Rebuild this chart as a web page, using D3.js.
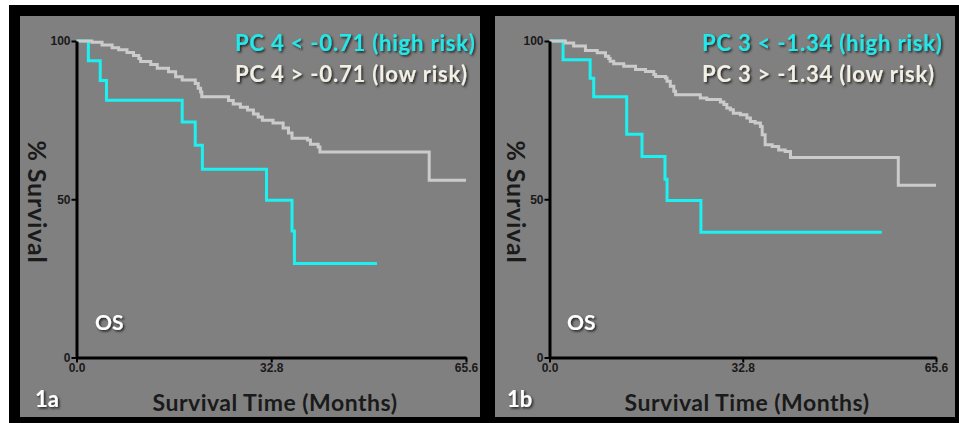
<!DOCTYPE html>
<html>
<head>
<meta charset="utf-8">
<script src="https://cdn.jsdelivr.net/npm/d3@7"></script>
<style>
  body { margin: 0; background: #fff; }
  svg { display: block; }
  .axis .tick text { font-family: "Liberation Sans", Arial, sans-serif; font-weight: bold; font-size: 12px; fill: #1a1a1a; }
  .axis path.domain { stroke: #000; stroke-width: 3px; }
  .axis .tick line { stroke: #000; stroke-width: 2px; }
  .label { font-family: Lato, "Open Sans", sans-serif; font-weight: bold; }
</style>
</head>
<body>
<script>
//values, each point is [months, % survival]
var xTicks = [0, 32.8, 65.6];
var yTicks = [0, 50, 100];
var panelNames = ["1a", "1b"];
var highLabels = ["PC 4 < -0.71 (high risk)", "PC 3 < -1.34 (high risk)"];
var lowLabels = ["PC 4 > -0.71 (low risk)", "PC 3 > -1.34 (low risk)"];

var highRisk4 = [[0,100],[2.0,93.75],[4.0,87.5],[5.05,81.25],[17.8,74.4],[20.0,67.1],[21.2,59.5],[32.0,49.7],[36.3,40.0],[36.7,29.7],[50.6,29.7]];
var lowRisk4 = [[0,100],[2.6,99.6],[4.3,98.7],[6.0,97.9],[7.1,97.2],[8.5,96.4],[9.6,95.4],[10.5,94.5],[10.8,93.5],[12.5,92.6],[13.6,91.4],[15.5,90.3],[16.7,88.7],[17.8,87.7],[20.0,86.6],[20.5,85.1],[20.9,83.9],[21.1,82.4],[25.6,81.2],[26.4,80.1],[27.6,79.1],[28.8,78.2],[29.8,76.9],[30.6,76.0],[31.3,75.0],[33.1,74.1],[34.8,72.5],[35.7,70.9],[36.3,69.3],[38.9,68.7],[39.4,67.4],[40.7,66.5],[41.0,64.9],[59.4,56.0],[65.6,56.0]];
var highRisk3 = [[0,100],[2.3,94.1],[6.9,88.2],[7.5,82.4],[13.1,70.5],[15.7,63.5],[19.6,56.3],[19.95,49.6],[25.7,39.6],[56.4,39.6]];
var lowRisk3 = [[0,100],[2.7,99.4],[4.1,98.4],[6.1,97.0],[8.1,96.3],[9.5,95.2],[10.05,94.5],[10.3,93.6],[10.9,92.8],[12.6,92.0],[14.6,91.0],[16.3,90.4],[17.7,89.4],[18.0,88.8],[19.7,88.3],[19.95,87.3],[20.5,85.7],[21.1,84.1],[21.4,83.0],[25.6,82.0],[26.7,81.5],[29.0,80.7],[29.6,79.9],[30.1,78.8],[30.7,78.3],[31.2,77.2],[32.4,76.7],[33.5,75.7],[34.1,74.6],[34.9,74.1],[35.8,73.0],[36.1,70.4],[36.6,67.2],[37.8,66.7],[38.9,65.6],[40.0,65.1],[40.9,63.2],[59.2,54.4],[65.6,54.4]];

var highSeries = [highRisk4, highRisk3];
var lowSeries = [lowRisk4, lowRisk3];

//frame positions of the two panels
var panels = [
    {bgX: 20, plotL: 76.5, plotR: 466, legendX: 235, osX: 95, nameX: 35, xTitleX: 275, yTitleX: 28},
    {bgX: 495, plotL: 549.5, plotR: 936, legendX: 702, osX: 567, nameX: 507, xTitleX: 747, yTitleX: 507}
];

var width = 959, height = 423,
    plotTop = 41, plotBottom = 357.5;

var svg = d3.select("body")
    .append("svg")
    .attr("width", width)
    .attr("height", height);

//soft dark shadow behind the white / coloured labels
var shadow = svg.append("defs").append("filter")
    .attr("id", "shadow")
    .attr("x", "-10%").attr("y", "-30%")
    .attr("width", "130%").attr("height", "170%");
shadow.append("feDropShadow")
    .attr("dx", 1.5).attr("dy", 1.5)
    .attr("stdDeviation", 1)
    .attr("flood-color", "#000")
    .attr("flood-opacity", 0.75);

//black outer frame
svg.append("rect")
    .attr("x", 9).attr("y", 5)
    .attr("width", width - 9).attr("height", height - 5)
    .attr("fill", "#000");

panels.forEach(function(p, i){

    var g = svg.append("g");

    //gray plot background
    g.append("rect")
        .attr("x", p.bgX).attr("y", 16)
        .attr("width", 460).attr("height", 401)
        .attr("fill", "#808080");

    var x = d3.scaleLinear()
        .domain([0, 65.6])
        .range([p.plotL, p.plotR]);

    var y = d3.scaleLinear()
        .domain([0, 100])
        .range([plotBottom, plotTop]);

    var line = d3.line()
        .curve(d3.curveStepAfter)
        .x(function(d){ return x(d[0]); })
        .y(function(d){ return y(d[1]); });

    //high risk first, low risk drawn over it
    g.append("path")
        .datum(highSeries[i])
        .attr("d", line)
        .attr("fill", "none")
        .attr("stroke", "#1cf0f0")
        .attr("stroke-width", 3);

    g.append("path")
        .datum(lowSeries[i])
        .attr("d", line)
        .attr("fill", "none")
        .attr("stroke", "#cbcbcb")
        .attr("stroke-width", 3);

    //axes
    var yAxis = d3.axisLeft(y)
        .tickValues(yTicks)
        .tickSize(5)
        .tickSizeOuter(0)
        .tickPadding(1);

    g.append("g")
        .attr("class", "axis")
        .attr("transform", "translate(" + p.plotL + ",0)")
        .call(yAxis);

    var xAxis = d3.axisBottom(x)
        .tickValues(xTicks)
        .tickFormat(d3.format(".1f"))
        .tickSize(5)
        .tickSizeOuter(0)
        .tickPadding(1);

    g.append("g")
        .attr("class", "axis")
        .attr("transform", "translate(0," + plotBottom + ")")
        .call(xAxis);

    //legend
    g.append("text")
        .attr("class", "label")
        .attr("x", p.legendX).attr("y", 51)
        .attr("font-size", 22)
        .attr("letter-spacing", 0.8)
        .attr("fill", "#22e8ea")
        .attr("filter", "url(#shadow)")
        .text(highLabels[i]);

    g.append("text")
        .attr("class", "label")
        .attr("x", p.legendX).attr("y", 82)
        .attr("font-size", 22)
        .attr("letter-spacing", 0.8)
        .attr("fill", "#f2efe4")
        .attr("filter", "url(#shadow)")
        .text(lowLabels[i]);

    g.append("text")
        .attr("class", "label")
        .attr("x", p.osX).attr("y", 330)
        .attr("font-size", 21)
        .attr("fill", "#fff")
        .attr("filter", "url(#shadow)")
        .text("OS");

    g.append("text")
        .attr("class", "label")
        .attr("x", p.nameX).attr("y", 407)
        .attr("font-size", 22)
        .attr("fill", "#fff")
        .attr("filter", "url(#shadow)")
        .text(panelNames[i]);

    //axis titles
    g.append("text")
        .attr("class", "label")
        .attr("x", p.xTitleX).attr("y", 411)
        .attr("text-anchor", "middle")
        .attr("font-size", 23)
        .attr("letter-spacing", 0.5)
        .attr("fill", "#1a1a1a")
        .text("Survival Time (Months)");

    g.append("text")
        .attr("class", "label")
        .attr("transform", "translate(" + p.yTitleX + ",202) rotate(90)")
        .attr("text-anchor", "middle")
        .attr("font-size", 25)
        .attr("letter-spacing", 0.8)
        .attr("fill", "#1a1a1a")
        .text("% Survival");
});
</script>
</body>
</html>
